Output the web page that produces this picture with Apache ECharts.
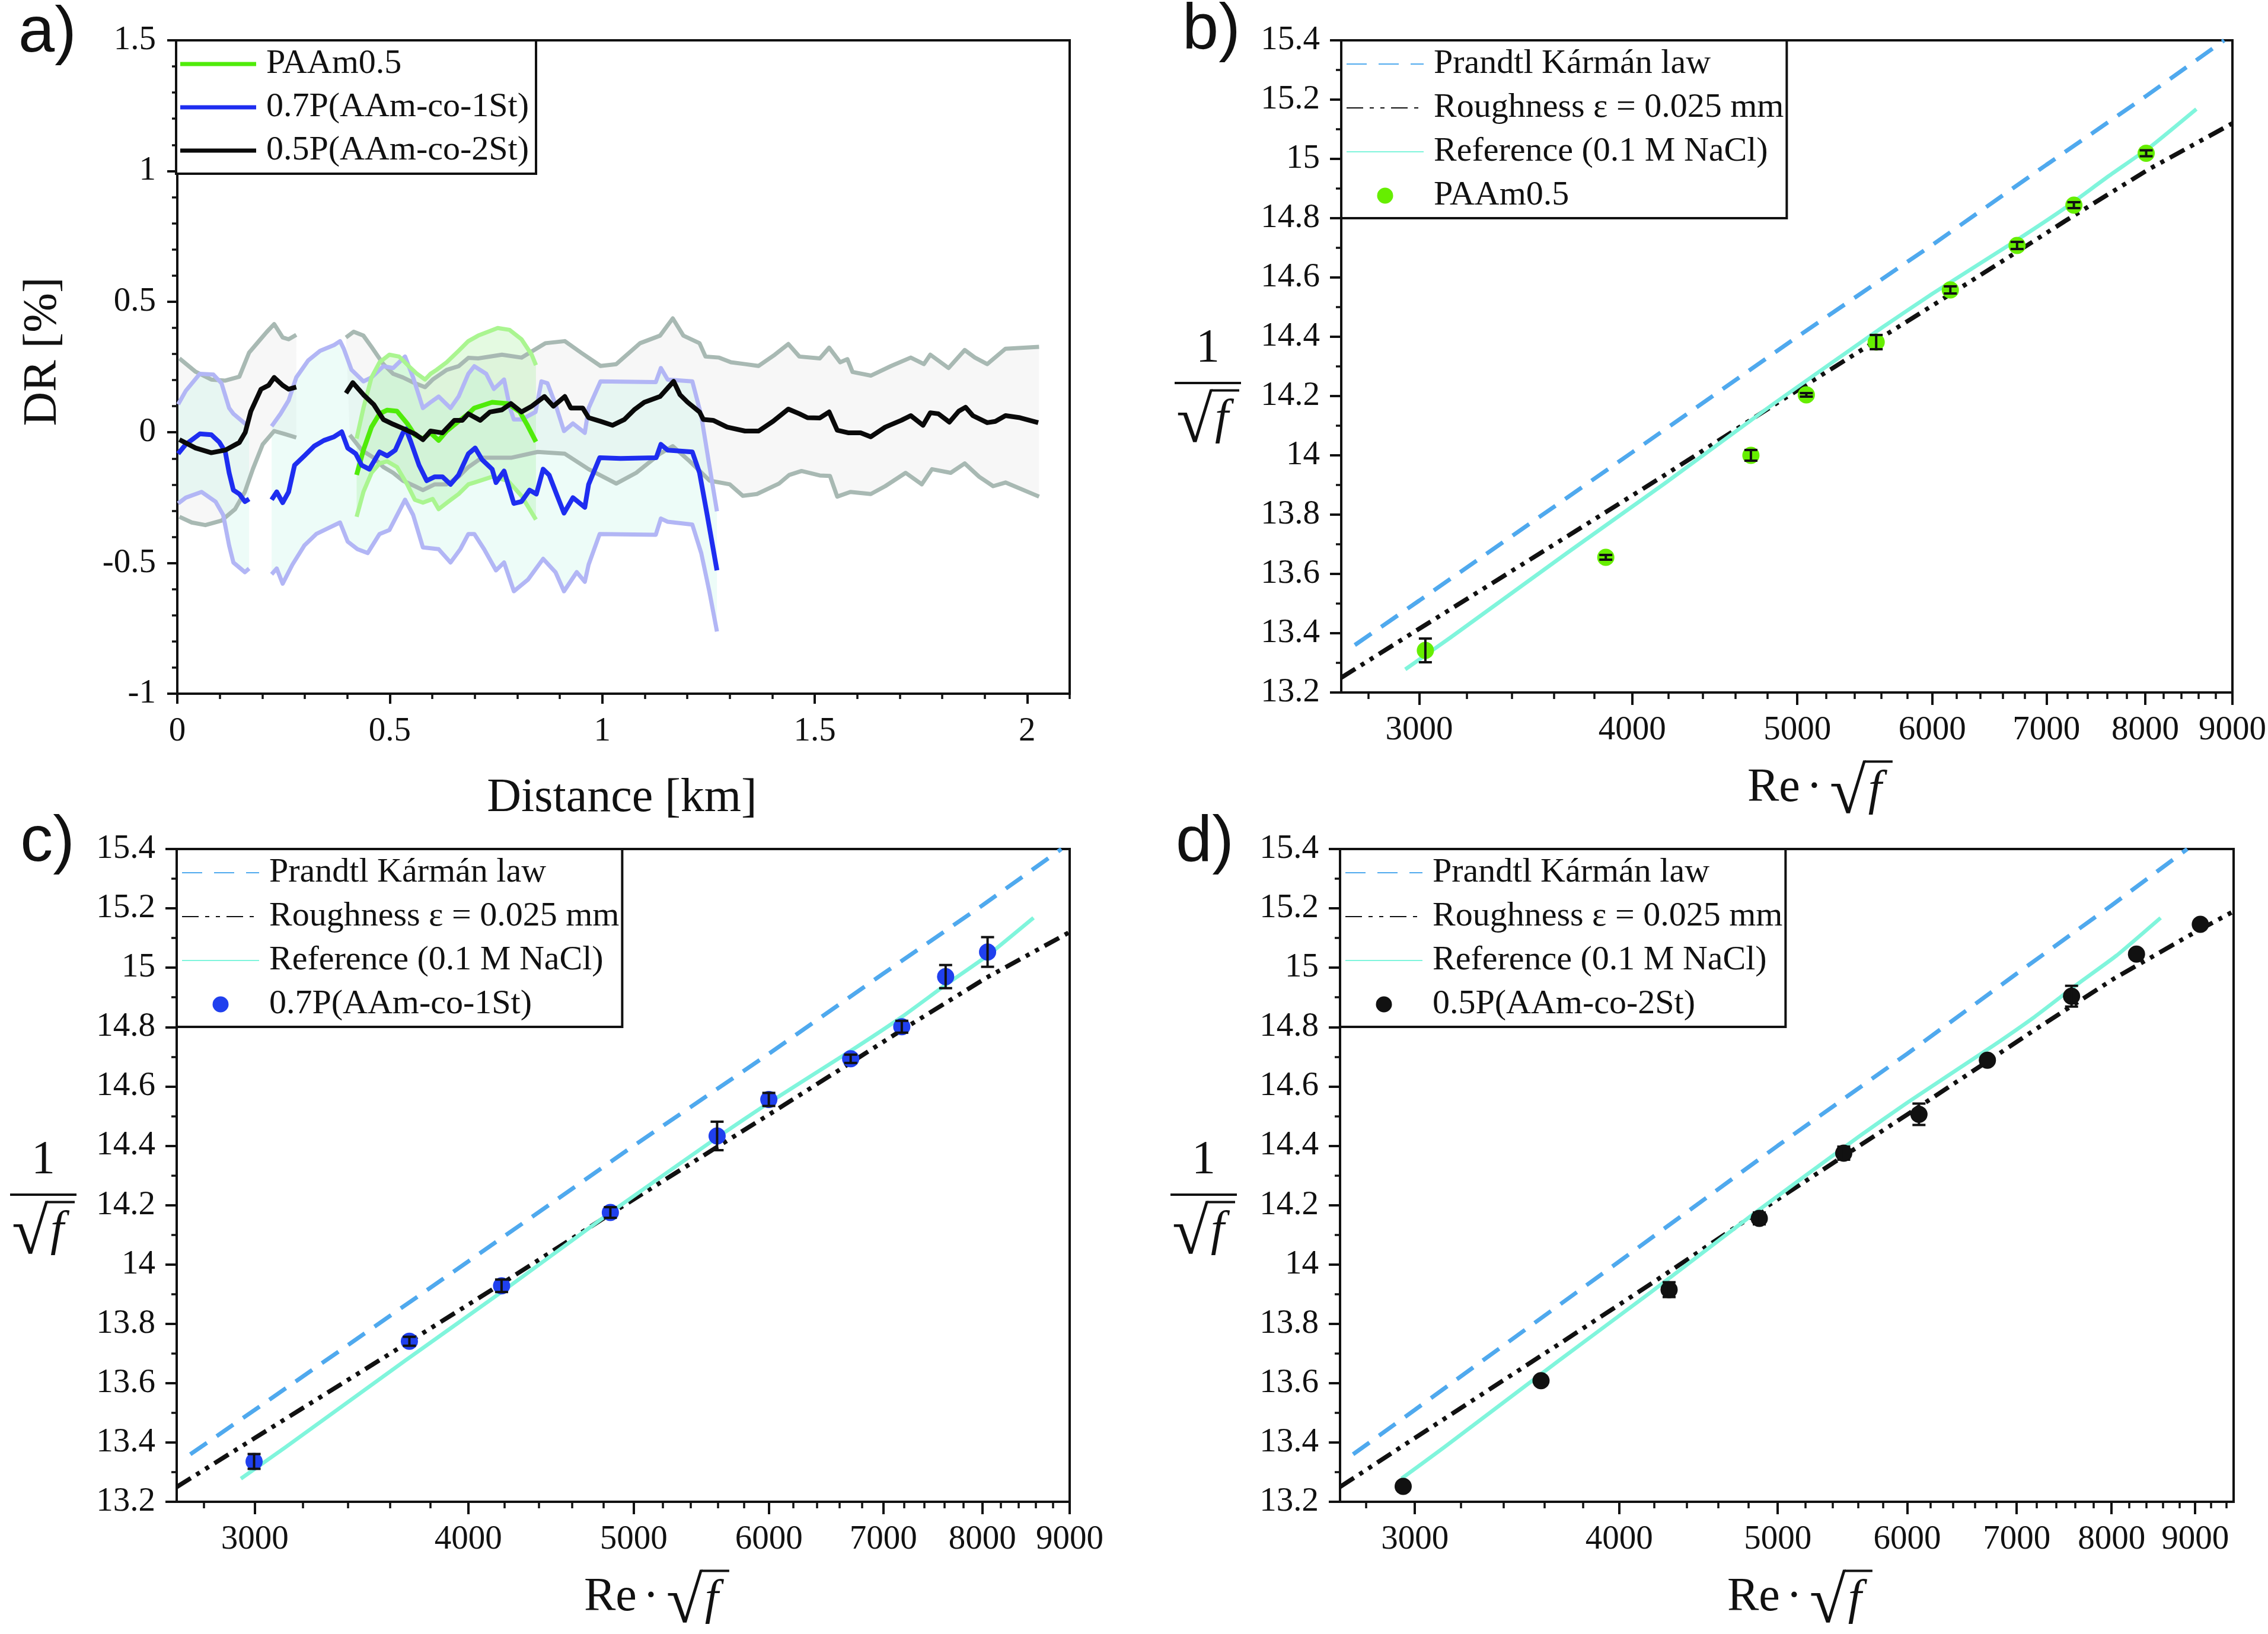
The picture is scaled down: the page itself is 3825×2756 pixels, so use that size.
<!DOCTYPE html>
<html><head><meta charset="utf-8">
<script src="https://cdn.jsdelivr.net/npm/echarts@6/dist/echarts.min.js"></script>
<style>html,body{margin:0;padding:0;background:#fff}#c{width:3825px;height:2756px}</style>
</head><body><div id="c"></div><script>
// ================= DATA =================
// Panel a: drag reduction vs distance  ([km, DR%], '-' = gap)
const paam_line = [[0.422,-0.163],[0.438,-0.068],[0.457,0.02],[0.476,0.071],[0.494,0.085],[0.517,0.081],[0.541,0.034],[0.559,-0.01],[0.578,-0.024],[0.596,-0.002],[0.615,-0.031],[0.634,0.005],[0.662,0.042],[0.685,0.071],[0.699,0.093],[0.741,0.115],[0.778,0.11],[0.806,0.078],[0.824,0.027],[0.844,-0.036]];
const paam_upper = [[0.422,-0.024],[0.438,0.093],[0.457,0.21],[0.476,0.268],[0.499,0.297],[0.522,0.29],[0.545,0.253],[0.564,0.224],[0.583,0.202],[0.596,0.224],[0.61,0.239],[0.634,0.268],[0.662,0.312],[0.685,0.349],[0.708,0.37],[0.754,0.399],[0.782,0.392],[0.81,0.356],[0.834,0.297],[0.844,0.257]];
const paam_lower = [[0.422,-0.323],[0.438,-0.228],[0.457,-0.155],[0.476,-0.119],[0.494,-0.111],[0.517,-0.133],[0.541,-0.199],[0.559,-0.258],[0.578,-0.269],[0.601,-0.255],[0.615,-0.294],[0.638,-0.265],[0.662,-0.236],[0.685,-0.199],[0.699,-0.192],[0.741,-0.17],[0.778,-0.185],[0.81,-0.243],[0.844,-0.334]];

const co1St_line = [[0.002,-0.082],[0.02,-0.046],[0.053,-0.006],[0.08,-0.009],[0.099,-0.038],[0.113,-0.075],[0.122,-0.155],[0.132,-0.221],[0.146,-0.236],[0.159,-0.265],[0.169,-0.255],[0.195,'-'],
 [0.222,-0.258],[0.234,-0.228],[0.248,-0.269],[0.262,-0.228],[0.276,-0.126],[0.299,-0.09],[0.322,-0.053],[0.345,-0.031],[0.369,-0.017],[0.387,0.002],[0.401,-0.06],[0.42,-0.082],[0.434,-0.126],[0.452,-0.141],[0.476,-0.075],[0.494,-0.09],[0.513,-0.068],[0.531,-0.002],[0.538,0.013],[0.55,-0.038],[0.569,-0.126],[0.587,-0.185],[0.606,-0.17],[0.624,-0.17],[0.643,-0.199],[0.662,-0.163],[0.685,-0.082],[0.701,-0.06],[0.717,-0.104],[0.741,-0.141],[0.75,-0.192],[0.769,-0.148],[0.792,-0.272],[0.81,-0.265],[0.829,-0.221],[0.845,-0.236],[0.861,-0.141],[0.875,-0.163],[0.894,-0.243],[0.91,-0.309],[0.931,-0.25],[0.959,-0.287],[0.968,-0.199],[0.994,-0.097],[1.043,-0.1],[1.127,-0.097],[1.138,-0.046],[1.154,-0.068],[1.212,-0.075],[1.229,-0.155],[1.247,-0.316],[1.27,-0.528]];
const co1St_upper = [[0.002,0.107],[0.02,0.159],[0.053,0.224],[0.085,0.221],[0.104,0.188],[0.122,0.093],[0.132,0.071],[0.159,0.034],[0.169,0.027],[0.195,'-'],
 [0.222,0.023],[0.243,0.071],[0.262,0.122],[0.28,0.21],[0.308,0.275],[0.336,0.312],[0.369,0.334],[0.383,0.349],[0.392,0.319],[0.41,0.239],[0.438,0.195],[0.457,0.21],[0.485,0.253],[0.508,0.246],[0.536,0.29],[0.555,0.21],[0.578,0.093],[0.596,0.115],[0.615,0.137],[0.643,0.093],[0.662,0.137],[0.685,0.224],[0.699,0.253],[0.727,0.224],[0.745,0.166],[0.769,0.202],[0.783,0.093],[0.792,0.049],[0.81,0.049],[0.843,0.078],[0.857,0.195],[0.871,0.188],[0.89,0.107],[0.91,0.005],[0.931,0.034],[0.959,-0.002],[0.968,0.093],[0.996,0.195],[1.126,0.192],[1.138,0.246],[1.154,0.202],[1.212,0.195],[1.233,0.064],[1.252,-0.126],[1.27,-0.302]];
const co1St_lower = [[0.002,-0.272],[0.02,-0.25],[0.057,-0.228],[0.09,-0.265],[0.108,-0.316],[0.122,-0.433],[0.132,-0.498],[0.159,-0.535],[0.169,-0.521],[0.195,'-'],
 [0.222,-0.543],[0.234,-0.521],[0.248,-0.579],[0.271,-0.506],[0.299,-0.433],[0.327,-0.389],[0.355,-0.367],[0.383,-0.345],[0.401,-0.418],[0.424,-0.447],[0.448,-0.462],[0.476,-0.389],[0.499,-0.374],[0.536,-0.258],[0.555,-0.316],[0.578,-0.44],[0.615,-0.447],[0.643,-0.498],[0.666,-0.447],[0.685,-0.389],[0.699,-0.389],[0.722,-0.447],[0.75,-0.528],[0.769,-0.498],[0.792,-0.608],[0.825,-0.564],[0.861,-0.484],[0.89,-0.535],[0.91,-0.608],[0.94,-0.535],[0.959,-0.572],[0.968,-0.506],[0.994,-0.389],[1.126,-0.392],[1.138,-0.33],[1.154,-0.342],[1.212,-0.353],[1.233,-0.462],[1.252,-0.608],[1.27,-0.762]];

const co2St_line = [[0.005,-0.028],[0.043,-0.06],[0.08,-0.078],[0.113,-0.068],[0.146,-0.039],[0.16,0.0],[0.173,0.08],[0.197,0.165],[0.215,0.18],[0.228,0.21],[0.248,0.18],[0.262,0.165],[0.28,0.173],[0.34,'-'],
 [0.397,0.15],[0.413,0.19],[0.438,0.144],[0.462,0.107],[0.485,0.049],[0.508,0.031],[0.531,0.015],[0.559,-0.006],[0.578,-0.028],[0.596,0.005],[0.624,-0.002],[0.652,0.046],[0.671,0.046],[0.685,0.071],[0.713,0.046],[0.736,0.078],[0.764,0.086],[0.785,0.11],[0.81,0.078],[0.834,0.1],[0.864,0.137],[0.885,0.1],[0.912,0.137],[0.926,0.093],[0.954,0.093],[0.968,0.056],[0.996,0.042],[1.024,0.027],[1.052,0.049],[1.075,0.086],[1.099,0.115],[1.136,0.137],[1.168,0.195],[1.183,0.144],[1.201,0.115],[1.229,0.078],[1.238,0.049],[1.261,0.046],[1.294,0.02],[1.336,0.005],[1.368,0.005],[1.402,0.042],[1.438,0.089],[1.464,0.071],[1.483,0.056],[1.512,0.055],[1.534,0.078],[1.553,0.008],[1.58,-0.002],[1.608,-0.002],[1.632,-0.017],[1.666,0.02],[1.704,0.046],[1.726,0.064],[1.755,0.027],[1.772,0.075],[1.791,0.071],[1.817,0.039],[1.839,0.081],[1.855,0.096],[1.872,0.064],[1.906,0.037],[1.925,0.042],[1.949,0.064],[1.983,0.056],[2.026,0.037]];
const co2St_upper = [[0.005,0.283],[0.043,0.232],[0.08,0.202],[0.113,0.198],[0.146,0.213],[0.169,0.305],[0.192,0.349],[0.211,0.385],[0.228,0.414],[0.248,0.363],[0.262,0.356],[0.28,0.373],[0.34,'-'],
 [0.397,0.363],[0.415,0.385],[0.438,0.37],[0.457,0.327],[0.485,0.261],[0.508,0.224],[0.531,0.21],[0.559,0.188],[0.583,0.173],[0.601,0.202],[0.634,0.239],[0.662,0.253],[0.685,0.285],[0.708,0.283],[0.764,0.297],[0.81,0.286],[0.866,0.341],[0.912,0.349],[0.95,0.305],[0.996,0.254],[1.033,0.261],[1.089,0.341],[1.136,0.37],[1.166,0.436],[1.191,0.37],[1.229,0.341],[1.243,0.29],[1.275,0.286],[1.303,0.268],[1.336,0.261],[1.368,0.254],[1.406,0.297],[1.438,0.338],[1.464,0.29],[1.512,0.283],[1.534,0.324],[1.56,0.268],[1.577,0.28],[1.589,0.231],[1.632,0.217],[1.68,0.254],[1.726,0.286],[1.757,0.261],[1.772,0.297],[1.815,0.246],[1.853,0.315],[1.877,0.286],[1.906,0.261],[1.949,0.32],[2.028,0.327]];
const co2St_lower = [[0.005,-0.323],[0.034,-0.345],[0.066,-0.355],[0.104,-0.338],[0.136,-0.294],[0.159,-0.228],[0.178,-0.14],[0.201,-0.046],[0.228,0.005],[0.252,-0.006],[0.28,-0.02],[0.34,'-'],
 [0.406,-0.01],[0.434,-0.068],[0.462,-0.097],[0.485,-0.133],[0.508,-0.155],[0.531,-0.185],[0.559,-0.206],[0.578,-0.221],[0.606,-0.199],[0.634,-0.199],[0.662,-0.17],[0.685,-0.133],[0.717,-0.097],[0.787,-0.097],[0.848,-0.075],[0.912,-0.082],[0.968,-0.141],[1.033,-0.196],[1.08,-0.155],[1.136,-0.082],[1.166,-0.053],[1.206,-0.111],[1.253,-0.185],[1.3,-0.199],[1.331,-0.243],[1.364,-0.236],[1.416,-0.196],[1.44,-0.163],[1.469,-0.148],[1.512,-0.165],[1.536,-0.167],[1.553,-0.246],[1.584,-0.228],[1.632,-0.236],[1.666,-0.206],[1.714,-0.155],[1.752,-0.199],[1.776,-0.141],[1.82,-0.155],[1.853,-0.119],[1.887,-0.17],[1.92,-0.206],[1.949,-0.192],[2.028,-0.246]];

// Panels b-d: 1/sqrt(f) vs Re*sqrt(f)
const pk_re = [2750,3000,4000,5000,6000,7000,8000,8900];
const pk_inv = [13.36,13.51,14.01,14.40,14.71,14.98,15.21,15.40];
const rough_re = [2700,3000,3695,4184,4845,5603,6000,6700,7177,8038,9000,9500];
const rough_inv = [13.25,13.415,13.74,13.935,14.17,14.398,14.505,14.68,14.79,14.965,15.12,15.19];
const ref_re = [2944,3127,3670,4184,4845,5603,6000,6700,7177,7614,8057,8572];
const ref_inv = [13.278,13.384,13.674,13.907,14.175,14.43,14.545,14.72,14.834,14.942,15.041,15.168];

const b_re  = [3025,3860,4696,5061,5562,6148,6728,7265,8010];
const b_inv = [13.342,13.656,14.0,14.204,14.382,14.558,14.708,14.844,15.019];
const b_err = [0.04,0.008,0.018,0.006,0.024,0.012,0.012,0.01,0.01];

const c_re  = [2997,3695,4184,4845,5595,5999,6699,7177,7614,8057];
const c_inv = [13.336,13.741,13.928,14.175,14.433,14.556,14.693,14.801,14.97,15.053];
const c_err = [0.025,0.015,0.021,0.018,0.048,0.022,0.014,0.02,0.039,0.05];

const d_re  = [2951,3583,4291,4872,5487,6100,6717,7562,8286,9065];
const d_inv = [13.252,13.608,13.915,14.155,14.375,14.506,14.688,14.904,15.046,15.146];
const d_err = [0,0,0.025,0.02,0.022,0.036,0,0.035,0,0];

// Tick values / labels
const distTicks = [0,0.5,1,1.5,2];
const distMinorTicks = [0.1,0.2,0.3,0.4,0.6,0.7,0.8,0.9,1.1,1.2,1.3,1.4,1.6,1.7,1.8,1.9,2.1];
const drTicks = [-1,-0.5,0,0.5,1,1.5];
const drMinorTicks = [-0.9,-0.8,-0.7,-0.6,-0.4,-0.3,-0.2,-0.1,0.1,0.2,0.3,0.4,0.6,0.7,0.8,0.9,1.1,1.2,1.3,1.4];
const reTicks = [3000,4000,5000,6000,7000,8000,9000];
const reMinorTicks = [2800,3200,3400,3600,3800,4200,4400,4600,4800,5200,5400,5600,5800,6200,6400,6600,6800,7200,7400,7600,7800,8200,8400,8600,8800,9200,9400];
const invTicks = [13.2,13.4,13.6,13.8,14,14.2,14.4,14.6,14.8,15,15.2,15.4];
const invMinorTicks = [13.3,13.5,13.7,13.9,14.1,14.3,14.5,14.7,14.9,15.1,15.3];

const nameA = ['PAAm0.5','0.7P(AAm-co-1St)','0.5P(AAm-co-2St)'];
const nameLines = ['Prandtl Kármán law','Roughness ε = 0.025 mm','Reference (0.1 M NaCl)'];

// ================= STYLE / BUILD =================
const FF = '"Liberation Serif","Times New Roman",serif';
const AX = '#111';
const C = {
  green:'#50eb0a', greenEdge:'#aaf590', greenFill:'rgba(150,235,140,0.26)',
  blue:'#1e2df0', blueEdge:'#b2b6f5', blueFill:'rgba(185,245,228,0.26)',
  black:'#0a0a0a', grayEdge:'#a8b9b3', grayFill:'rgba(215,215,215,0.2)',
  pk:'#4fa9ee', rough:'#111111', ref:'#80f5dc',
  bPt:'#66ee00', cPt:'#2040ee', dPt:'#111111'
};

function baseAxis(o){ return Object.assign({splitLine:{show:false}, minorTick:{show:false}, minorSplitLine:{show:false}, splitArea:{show:false}}, o); }
function majorAxis(type, gi, pos, min, max, ticks, len, margin, fmt){
  const a = baseAxis({type, gridIndex:gi, position:pos, min, max,
    axisLine:{show:true, onZero:false, lineStyle:{color:AX, width:4}},
    axisTick:{show:true, inside:false, length:len, customValues:ticks, lineStyle:{color:AX, width:4}},
    axisLabel:{show:true, customValues:ticks, margin, fontSize:57, fontFamily:FF, color:'#111'}});
  if (type === 'log') a.logBase = 10;
  if (fmt) a.axisLabel.formatter = fmt;
  return a;
}
function minorAxis(type, gi, pos, min, max, ticks, len){
  const a = baseAxis({type, gridIndex:gi, position:pos, min, max,
    axisLine:{show:false, onZero:false},
    axisTick:{show:true, inside:false, length:len, customValues:ticks, lineStyle:{color:AX, width:3.5}},
    axisLabel:{show:false}});
  if (type === 'log') a.logBase = 10;
  return a;
}
const reFmt = v => String(Math.round(v));

const xAxis = [
  majorAxis('value',0,'bottom',0,2.1,distTicks,17,36),
  minorAxis('value',0,'bottom',0,2.1,distMinorTicks,9),
  majorAxis('log',1,'bottom',2700,9000,reTicks,21,36,reFmt),
  minorAxis('log',1,'bottom',2700,9000,reMinorTicks,11),
  majorAxis('log',2,'bottom',2700,9000,reTicks,21,36,reFmt),
  minorAxis('log',2,'bottom',2700,9000,reMinorTicks,11),
  majorAxis('log',3,'bottom',2700,9500,reTicks,21,36,reFmt),
  minorAxis('log',3,'bottom',2700,9500,reMinorTicks,11)
];
const yAxis = [
  majorAxis('value',0,'left',-1,1.5,drTicks,17,36),
  minorAxis('value',0,'left',-1,1.5,drMinorTicks,9),
  majorAxis('value',1,'left',13.2,15.4,invTicks,19,36),
  minorAxis('value',1,'left',13.2,15.4,invMinorTicks,9),
  majorAxis('value',2,'left',13.2,15.4,invTicks,19,36),
  minorAxis('value',2,'left',13.2,15.4,invMinorTicks,9),
  majorAxis('value',3,'left',13.2,15.4,invTicks,19,36),
  minorAxis('value',3,'left',13.2,15.4,invMinorTicks,9)
];

function splitSegs(arr){
  const segs=[]; let cur=[];
  arr.forEach(p=>{ if (p[1]==='-'){ if(cur.length) segs.push(cur); cur=[]; } else cur.push(p); });
  if (cur.length) segs.push(cur);
  return segs;
}
function bandFill(upper, lower, color){
  return {type:'custom', xAxisIndex:0, yAxisIndex:0, silent:true, z:1, data:[[0.5,0]],
    renderItem(params, api){
      const su = splitSegs(upper), sl = splitSegs(lower);
      const children = su.map((u,k)=>{
        const l = sl[k] || [];
        const pts = u.map(p=>api.coord(p)).concat(l.slice().reverse().map(p=>api.coord(p)));
        return {type:'polygon', shape:{points:pts}, style:{fill:color}};
      });
      return {type:'group', children};
    }};
}
function aLine(name, data, color, width, z){
  return {type:'line', name, xAxisIndex:0, yAxisIndex:0, data, symbol:'none', showSymbol:false,
    connectNulls:false, z, silent:true, lineStyle:{color, width, join:'round'}, itemStyle:{color}};
}
function lawLines(xi){
  const mk = (xs,ys)=>xs.map((x,i)=>[x,ys[i]]);
  return [
    {type:'line', name:nameLines[0], xAxisIndex:xi, yAxisIndex:xi, data:mk(pk_re,pk_inv), symbol:'none', silent:true, z:3,
      lineStyle:{color:C.pk, width:7, type:[34,20], cap:'butt'}, itemStyle:{color:C.pk}},
    {type:'line', name:nameLines[1], xAxisIndex:xi, yAxisIndex:xi, data:mk(rough_re,rough_inv), symbol:'none', silent:true, z:3,
      lineStyle:{color:C.rough, width:7.5, type:[28,11,7,11,7,11], cap:'butt'}, itemStyle:{color:C.rough}},
    {type:'line', name:nameLines[2], xAxisIndex:xi, yAxisIndex:xi, data:mk(ref_re,ref_inv), symbol:'none', silent:true, z:3, smooth:0.15,
      lineStyle:{color:C.ref, width:6.5, join:'round'}, itemStyle:{color:C.ref}}
  ];
}
function pts(name, xi, xs, ys, es, color){
  return [
    {type:'scatter', name, xAxisIndex:xi, yAxisIndex:xi, data:xs.map((x,i)=>[x,ys[i]]), symbol:'circle', symbolSize:29, z:4, silent:true, itemStyle:{color, opacity:1}},
    {type:'custom', xAxisIndex:xi, yAxisIndex:xi, silent:true, z:5, data:xs.map((x,i)=>[x,ys[i],es[i]]),
      renderItem(params, api){
        const x=api.value(0), y=api.value(1), e=api.value(2);
        if (!e) return null;
        const p1=api.coord([x,y-e]), p2=api.coord([x,y+e]); const cw=11;
        const st={stroke:'#111', lineWidth:4};
        return {type:'group', children:[
          {type:'line', shape:{x1:p1[0],y1:p1[1],x2:p2[0],y2:p2[1]}, style:st},
          {type:'line', shape:{x1:p1[0]-cw,y1:p1[1],x2:p1[0]+cw,y2:p1[1]}, style:st},
          {type:'line', shape:{x1:p2[0]-cw,y1:p2[1],x2:p2[0]+cw,y2:p2[1]}, style:st}
        ]};
      }}
  ];
}

const series = [
  bandFill(co2St_upper, co2St_lower, C.grayFill),
  bandFill(co1St_upper, co1St_lower, C.blueFill),
  bandFill(paam_upper, paam_lower, C.greenFill),
  aLine('gray upper', co2St_upper, C.grayEdge, 7, 2),
  aLine('gray lower', co2St_lower, C.grayEdge, 7, 2),
  aLine('blue upper', co1St_upper, C.blueEdge, 7, 2),
  aLine('blue lower', co1St_lower, C.blueEdge, 7, 2),
  aLine('green upper', paam_upper, C.greenEdge, 7, 2),
  aLine('green lower', paam_lower, C.greenEdge, 7, 2),
  aLine(nameA[0], paam_line, C.green, 8, 3),
  aLine(nameA[1], co1St_line, C.blue, 8, 3),
  aLine(nameA[2], co2St_line, C.black, 8, 3),
  ...lawLines(2), ...pts(nameA[0], 2, b_re, b_inv, b_err, C.bPt),
  ...lawLines(4), ...pts(nameA[1], 4, c_re, c_inv, c_err, C.cPt),
  ...lawLines(6), ...pts(nameA[2], 6, d_re, d_inv, d_err, C.dPt)
];

const legText = {fontFamily:FF, fontSize:58, color:'#111', lineHeight:62, padding:[0,0,0,12]};
function lawLegend(left, top, ptName, ptColor){
  return {left, top, orient:'vertical', selectedMode:false, itemWidth:130, itemHeight:27, itemGap:12,
    padding:[9,5,7,8], borderColor:'#111', borderWidth:4, backgroundColor:'#fff', textStyle:legText, z:20,
    data:[{name:nameLines[0], itemStyle:{opacity:0}}, {name:nameLines[1], itemStyle:{opacity:0}},
          {name:nameLines[2], itemStyle:{opacity:0}}, {name:ptName, icon:'circle', itemStyle:{color:ptColor, opacity:1}}]};
}
const legend = [
  {left:297, top:68, orient:'vertical', selectedMode:false, icon:'rect', itemWidth:128, itemHeight:7, itemGap:11,
   padding:[9,12,8,7], borderColor:'#111', borderWidth:4, backgroundColor:'#fff', textStyle:legText, z:20, data:nameA},
  lawLegend(2262, 68, nameA[0], C.bPt),
  lawLegend(298, 1432, nameA[1], C.cPt),
  lawLegend(2260, 1432, nameA[2], C.dPt)
];

// ---------- text graphics ----------
const mctx = document.createElement('canvas').getContext('2d');
mctx.textBaseline = 'middle';
function meas(t, font){ mctx.font = font; return mctx.measureText(t); }
function txt(t, x, y, font, align, rot){ return {type:'text', x, y, rotation:rot||0, z:100, silent:true,
  style:{text:t, font, fill:'#111', textAlign:align||'left', textVerticalAlign:'middle', verticalAlign:'middle'}}; }
function ln(x1,y1,x2,y2,w){ return {type:'line', z:100, silent:true, shape:{x1,y1,x2,y2}, style:{stroke:'#111', lineWidth:w||4}}; }
const FR = '112px "Liberation Serif","DejaVu Serif",serif';
const FI = 'italic 82px "Liberation Serif",serif';
const F80 = '80px "Liberation Serif",serif';
function rootF(x, yMid){
  const mr = meas('√', FR), mf = meas('f', FI);
  const rY = yMid + 12;
  const top = rY - mr.actualBoundingBoxAscent;
  const rRight = x + mr.actualBoundingBoxRight;
  const fx = rRight + 3;
  const end = fx + mf.actualBoundingBoxRight + 8;
  return {els:[txt('√', x, rY, FR), txt('f', fx, yMid + 4, FI), ln(rRight - 3, top + 2, end, top + 2, 4)], width:end - x};
}
function reLabel(xLeft, yMid){
  const wRe = meas('Re', F80).width;
  const els = [txt('Re', xLeft, yMid, F80), txt('·', xLeft + wRe + 24, yMid, F80, 'center')];
  return els.concat(rootF(xLeft + wRe + 50, yMid).els);
}
function invLabel(cx, barY){
  const w = rootF(0,0).width;
  return [txt('1', cx, barY - 57, F80, 'center'), ln(cx - 56, barY, cx + 56, barY, 4)].concat(rootF(cx - w/2, barY + 58).els);
}
const FL = '110px "Liberation Sans",Arial,sans-serif';
const graphic = [
  txt('a)', 80, 57, FL, 'center'), txt('b)', 2043, 52, FL, 'center'),
  txt('c)', 80, 1422, FL, 'center'), txt('d)', 2032, 1422, FL, 'center'),
  txt('Distance [km]', 1049, 1347, F80, 'center'),
  txt('DR [%]', 73, 593, F80, 'center', Math.PI/2),
  ...reLabel(2947, 1330), ...reLabel(985, 2695), ...reLabel(2913, 2695),
  ...invLabel(2037, 646), ...invLabel(73, 2015), ...invLabel(2030, 2015)
];

const gridBase = {show:true, borderColor:'#111', borderWidth:4, backgroundColor:'transparent', containLabel:false};
const option = {
  animation:false, backgroundColor:'#fff',
  grid:[
    Object.assign({left:299, top:68, width:1505, height:1102}, gridBase),
    Object.assign({left:2262, top:68, width:1506, height:1100}, gridBase),
    Object.assign({left:298, top:1432, width:1506, height:1101}, gridBase),
    Object.assign({left:2260, top:1432, width:1507, height:1101}, gridBase)
  ],
  xAxis, yAxis, legend, series, graphic
};
const chart = echarts.init(document.getElementById('c'), null, {renderer:'canvas', width:3825, height:2756});
chart.setOption(option);
</script></body></html>
